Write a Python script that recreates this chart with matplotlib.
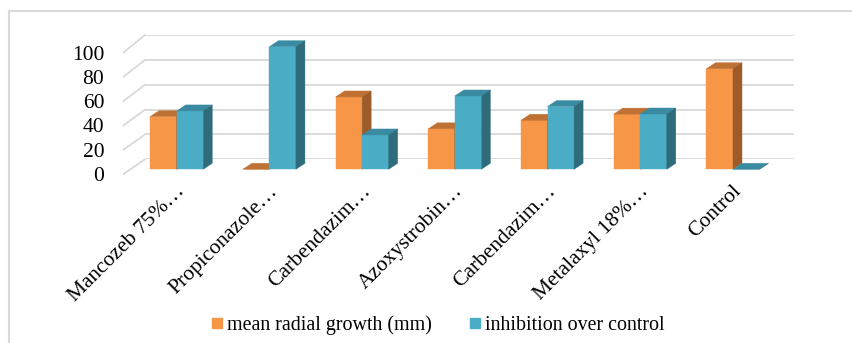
"""
Mycelial radial growth and percent inhibition per fungicide, drawn as
pseudo-3D clustered columns.
"""

import matplotlib.pyplot as plt
from matplotlib.lines import Line2D
from matplotlib.patches import ConnectionPatch, Polygon
from matplotlib.transforms import IdentityTransform, ScaledTranslation

categories = [
    "Mancozeb 75%…",
    "Propiconazole…",
    "Carbendazim…",
    "Azoxystrobin…",
    "Carbendazim…",
    "Metalaxyl 18%…",
    "Control",
]
radial_growth = [43.0, 0.0, 59.0, 33.0, 40.0, 45.0, 82.0]
inhibition = [47.6, 100.0, 28.0, 59.8, 51.2, 45.1, 0.0]
series_names = ["mean radial growth (mm)", "inhibition over control"]
y_ticks = [0, 20, 40, 60, 80, 100]

# front / top / side shades per series
ORANGE = ("#F79646", "#BF7133", "#9C5B28")
TEAL = ("#4BACC6", "#3A8BA1", "#2E6C7B")
GRID = "#D9D9D9"

WIDTH_PX, HEIGHT_PX = 853, 343
DEPTH = (9.0, 6.0)  # column depth offset in pixels (right, up)
BAR_W = 0.286

plt.rcParams["font.family"] = ["Liberation Serif", "DejaVu Serif"]

fig = plt.figure(figsize=(WIDTH_PX / 100, HEIGHT_PX / 100), dpi=100)


def axes_px(left, right, top, bottom):
    """Add an axes from a pixel box measured from the top-left corner."""
    ax = fig.add_axes([
        left / WIDTH_PX,
        1 - bottom / HEIGHT_PX,
        (right - left) / WIDTH_PX,
        (bottom - top) / HEIGHT_PX,
    ])
    ax.set_ylim(0, 100)
    ax.patch.set_visible(False)
    for spine in ax.spines.values():
        spine.set_visible(False)
    return ax


# back wall, front edge of the side wall, and the plane of the columns
ax_wall = axes_px(145, 794, 35, 159.3)
ax_front = axes_px(123, 124, 52.5, 174)
ax_bar = axes_px(130.35, 779.35, 46.7, 169.3)

ax_wall.set_xlim(-0.5, len(categories) - 0.5)
ax_wall.set_xticks([])
ax_wall.set_yticks([])
for value in y_ticks:
    ax_wall.axhline(value, color=GRID, lw=1.3, zorder=0)
    fig.add_artist(ConnectionPatch(
        xyA=(0.5, value), coordsA=ax_front.transData,
        xyB=(-0.5, value), coordsB=ax_wall.transData,
        color=GRID, lw=1.3,
    ))

ax_front.set_xlim(0, 1)
ax_front.set_xticks([])
ax_front.set_yticks(y_ticks)
ax_front.tick_params(axis="y", length=0, pad=13.5, labelsize=15.5)

ax_bar.set_xlim(-0.5, len(categories) - 0.5)
ax_bar.set_yticks([])
ax_bar.set_xticks(range(len(categories)))
ax_bar.set_xticklabels(categories, rotation=45, ha="right",
                       rotation_mode="anchor", fontsize=15.5)
ax_bar.tick_params(axis="x", length=0, pad=9)
shift = ScaledTranslation(-1 / 100, 0, fig.dpi_scale_trans)
for label in ax_bar.get_xticklabels():
    label.set_transform(label.get_transform() + shift)


def draw_column(ax, x_left, value, shades):
    """Draw one column as front face, top face and right side face."""
    front, top, side = shades
    (x0, y0), (x1, y1) = ax.transData.transform(
        [(x_left, 0), (x_left + BAR_W, value)]
    )
    dx, dy = DEPTH
    faces = [
        ([(x0, y0), (x1, y0), (x1, y1), (x0, y1)], front),
        ([(x0, y1), (x1, y1), (x1 + dx, y1 + dy), (x0 + dx, y1 + dy)], top),
        ([(x1, y0), (x1 + dx, y0 + dy), (x1 + dx, y1 + dy), (x1, y1)], side),
    ]
    for verts, color in faces:
        ax.add_patch(Polygon(verts, closed=True, facecolor=color,
                             edgecolor=color, lw=0.3,
                             transform=IdentityTransform(), clip_on=False))


for i in range(len(categories)):
    draw_column(ax_bar, i - BAR_W, radial_growth[i], ORANGE)
    draw_column(ax_bar, i, inhibition[i], TEAL)

# chart area border (open on the right and bottom)
fig.add_artist(Line2D([9 / WIDTH_PX, 9 / WIDTH_PX], [0, 1 - 11 / HEIGHT_PX],
                      color=GRID, lw=1.5))
fig.add_artist(Line2D([9 / WIDTH_PX, 1], [1 - 11 / HEIGHT_PX] * 2,
                      color=GRID, lw=1.5))

handles = [
    Line2D([], [], marker="s", ls="none", markersize=7,
           markerfacecolor=ORANGE[0], markeredgecolor=ORANGE[0]),
    Line2D([], [], marker="s", ls="none", markersize=7,
           markerfacecolor=TEAL[0], markeredgecolor=TEAL[0]),
]
fig.legend(handles, series_names, loc="center", ncol=2, frameon=False,
           bbox_to_anchor=(438 / WIDTH_PX, 1 - 325.5 / HEIGHT_PX),
           fontsize=14.4, handlelength=0.6, handletextpad=0.2,
           columnspacing=1.85, borderpad=0)

fig.savefig("out.png", dpi=100)
